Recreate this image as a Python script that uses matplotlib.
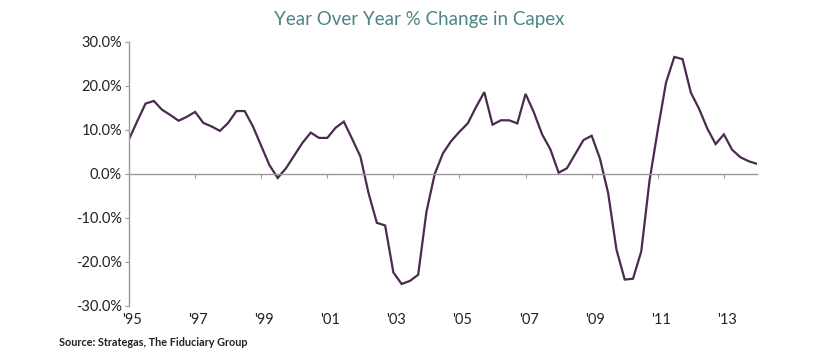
import numpy as np
import matplotlib
matplotlib.use('Agg')
import matplotlib.pyplot as plt
import matplotlib.transforms as mtransforms

# quarterly YoY % change in capex, 1995Q1 .. 2014Q1
capex_yoy = [
    7.9, 12.0, 16.0, 16.6, 14.6, 13.4, 12.1, 13.0,      # '95-'96
    14.1, 11.6, 10.8, 9.8, 11.6, 14.3, 14.3, 10.8,      # '97-'98
    6.4, 2.0, -0.9, 1.3, 4.2, 7.1, 9.4, 8.2,            # '99-'00
    8.2, 10.5, 11.9, 8.0, 4.0, -4.4, -11.1, -11.7,      # '01-'02
    -22.4, -25.0, -24.3, -22.9, -8.6, 0.0, 4.7, 7.5,    # '03-'04
    9.6, 11.5, 15.2, 18.6, 11.2, 12.2, 12.2, 11.5,      # '05-'06
    18.2, 14.0, 9.0, 5.6, 0.3, 1.3, 4.5, 7.7,           # '07-'08
    8.7, 3.5, -4.4, -17.2, -24.0, -23.8, -17.6, -1.5,   # '09-'10
    10.0, 20.8, 26.6, 26.1, 18.5, 14.8, 10.3, 6.8,      # '11-'12
    9.0, 5.5, 3.8, 2.9, 2.3,                            # '13-'14
]
year_labels = ["'95", "'97", "'99", "'01", "'03", "'05", "'07", "'09", "'11", "'13"]
y_ticks = [-30, -20, -10, 0, 10, 20, 30]

plt.rcParams['font.family'] = ['Lato', 'DejaVu Sans']

fig = plt.figure(figsize=(8.35, 3.57), dpi=100)
ax = fig.add_axes([0.1545, 0.1429, 0.752, 0.7395])

quarters = np.arange(len(capex_yoy))
ax.plot(quarters, capex_yoy, color='#4a2a4e', lw=1.6, solid_joinstyle='miter')

ax.set_xlim(0, len(capex_yoy) - 1)
ax.set_ylim(-30, 30)
ax.set_yticks(y_ticks)
ax.set_yticklabels([f'{v:.1f}%' for v in y_ticks])

spine_col = '#9a9a9a'
for s in ['top', 'right']:
    ax.spines[s].set_visible(False)
ax.spines['left'].set_color(spine_col)
ax.spines['bottom'].set_color(spine_col)
ax.spines['bottom'].set_position(('data', 0))
ax.spines['left'].set_linewidth(1.0)
ax.spines['bottom'].set_linewidth(1.0)

tick_pos = quarters[::8][:len(year_labels)]
ax.set_xticks(tick_pos)
ax.tick_params(axis='x', labelbottom=False, length=3, color=spine_col, direction='out')
ax.tick_params(axis='y', length=3, color=spine_col, labelsize=10.5, labelcolor='#222222', pad=2)

# year labels sit under the plot, not on the zero line
sec = ax.secondary_xaxis('bottom')
sec.set_xticks(tick_pos)
sec.set_xticklabels(year_labels)
sec.tick_params(length=0, labelsize=10.5, labelcolor='#222222', pad=5)
sec.spines['bottom'].set_visible(False)
shift = mtransforms.ScaledTranslation(3 / 100, 0, fig.dpi_scale_trans)
for lab in sec.get_xticklabels():
    lab.set_transform(lab.get_transform() + shift)

fig.text(0.502, 0.945, 'Year Over Year % Change in Capex', ha='center', va='center',
         fontsize=13.5, color='#4e8486')
fig.text(0.071, 0.042, 'Source: Strategas, The Fiduciary Group', ha='left', va='center',
         fontsize=7.8, fontweight='bold', color='#222222')

fig.savefig('out.png', dpi=100)
